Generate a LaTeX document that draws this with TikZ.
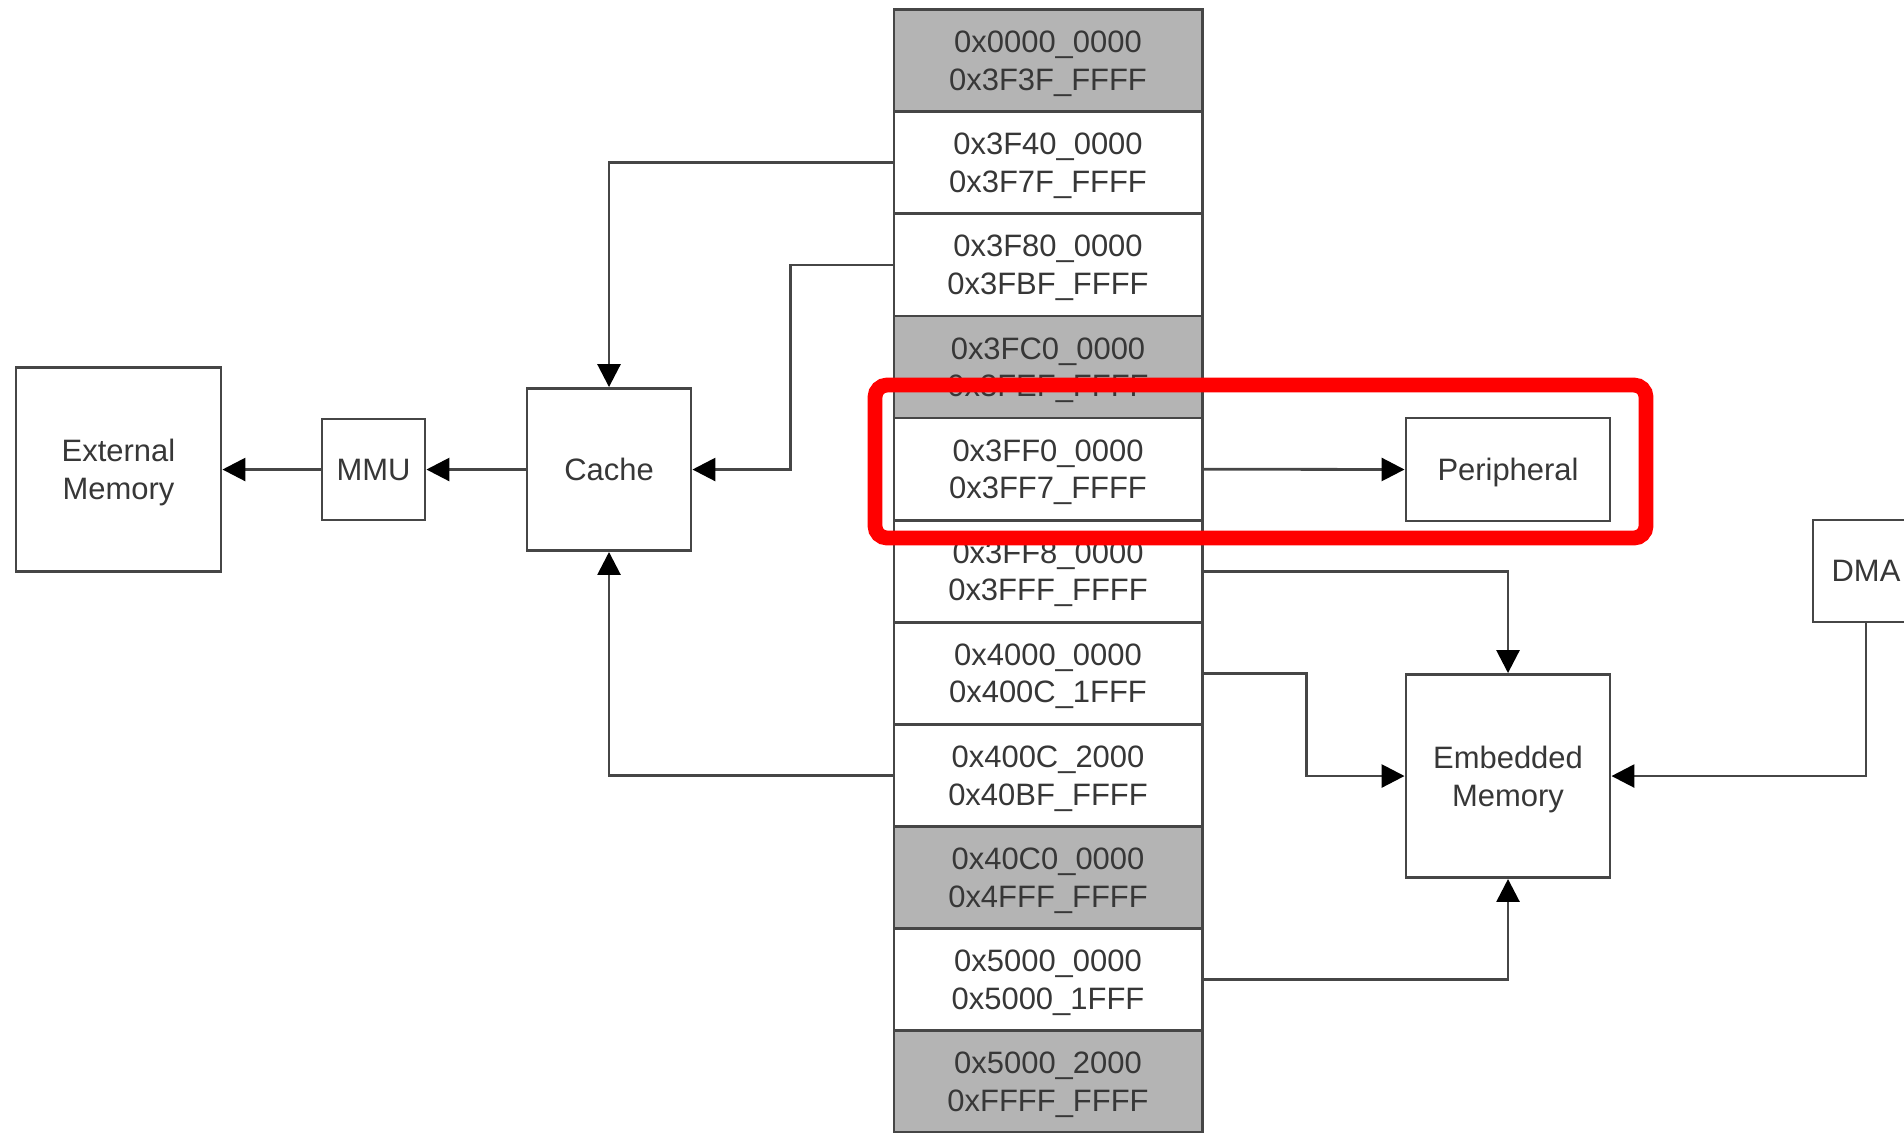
\documentclass[tikz,border=0pt]{standalone}
\usepackage{fontspec}
\setmainfont{Liberation Sans}
\usetikzlibrary{arrows.meta}
\definecolor{rowgrey}{RGB}{180,180,180}
\definecolor{edge}{RGB}{70,70,70}
\definecolor{ink}{RGB}{55,55,55}
\definecolor{hilite}{RGB}{255,0,0}
\begin{document}
\begin{tikzpicture}[x=0.01cm,y=-0.01cm,
    font=\fontsize{8.8}{10.7}\selectfont,
    region/.style={draw=edge,line width=0.8pt,fill=white,text=ink,text depth=0pt,minimum width=3.08cm,minimum height=1.021cm,align=center,inner sep=0pt},
    hole/.style={region,fill=rowgrey},
    block/.style={draw=edge,line width=0.8pt,fill=white,text=ink,text depth=0pt,align=center,inner sep=0pt},
    link/.style={draw=edge,line width=0.8pt,-{Triangle[length=6.5pt,width=6.5pt,color=black]}}]
\clip (0,0) rectangle (1904,1132);

   \node[hole]   at (1048,60.75)   (r0)  {0x0000\_0000\\0x3F3F\_FFFF};
   \node[region] at (1048,162.85)  (r1)  {0x3F40\_0000\\0x3F7F\_FFFF};
   \node[region] at (1048,264.95)  (r2)  {0x3F80\_0000\\0x3FBF\_FFFF};
   \node[hole]   at (1048,367.05)  (r3)  {0x3FC0\_0000\\0x3FEF\_FFFF};
   \node[region] at (1048,469.15)  (r4)  {0x3FF0\_0000\\0x3FF7\_FFFF};
   \node[region] at (1048,571.25)  (r5)  {0x3FF8\_0000\\0x3FFF\_FFFF};
   \node[region] at (1048,673.35)  (r6)  {0x4000\_0000\\0x400C\_1FFF};
   \node[region] at (1048,775.45)  (r7)  {0x400C\_2000\\0x40BF\_FFFF};
   \node[hole]   at (1048,877.55)  (r8)  {0x40C0\_0000\\0x4FFF\_FFFF};
   \node[region] at (1048,979.65)  (r9)  {0x5000\_0000\\0x5000\_1FFF};
   \node[hole]   at (1048,1081.75) (r10) {0x5000\_2000\\0xFFFF\_FFFF};

   \node[block,minimum width=2.05cm,minimum height=2.04cm] at (118.5,469.5) (ext) {External\\Memory};
   \node[block,minimum width=1.03cm,minimum height=1.01cm] at (373.5,469.5) (mmu) {MMU};
   \node[block,minimum width=1.64cm,minimum height=1.62cm] at (609,469.5) (cache) {Cache};
   \node[block,minimum width=2.04cm,minimum height=1.03cm] at (1508,469.5) (periph) {Peripheral};
   \node[block,minimum width=2.04cm,minimum height=2.03cm] at (1508,776) (emb) {Embedded\\Memory};
   \node[block,minimum width=1.06cm,minimum height=1.02cm] at (1866,571) (dma) {DMA};

    \draw[link] (r1.west) -| (cache.north);
    \draw[link] (r2.west) -- ++(-102,0) |- (cache.east);
    \draw[link] (r7.west) -| (cache.south);
    \draw[link] (cache.west) -- (mmu.east);
    \draw[link] (mmu.west) -- (ext.east);

    \draw[link] (r4.east) -- (periph.west);
    \draw[link] (r5.east) -| (emb.north);
    \draw[link] (r6.east) -- ++(103,0) |- (emb.west);
    \draw[link] (r9.east) -| (emb.south);
    \draw[link] (dma.south) |- (emb.east);

    \draw[hilite,line width=4.2pt,rounded corners=0.12cm] (875,385) rectangle (1646,538);

\end{tikzpicture}
\end{document}
